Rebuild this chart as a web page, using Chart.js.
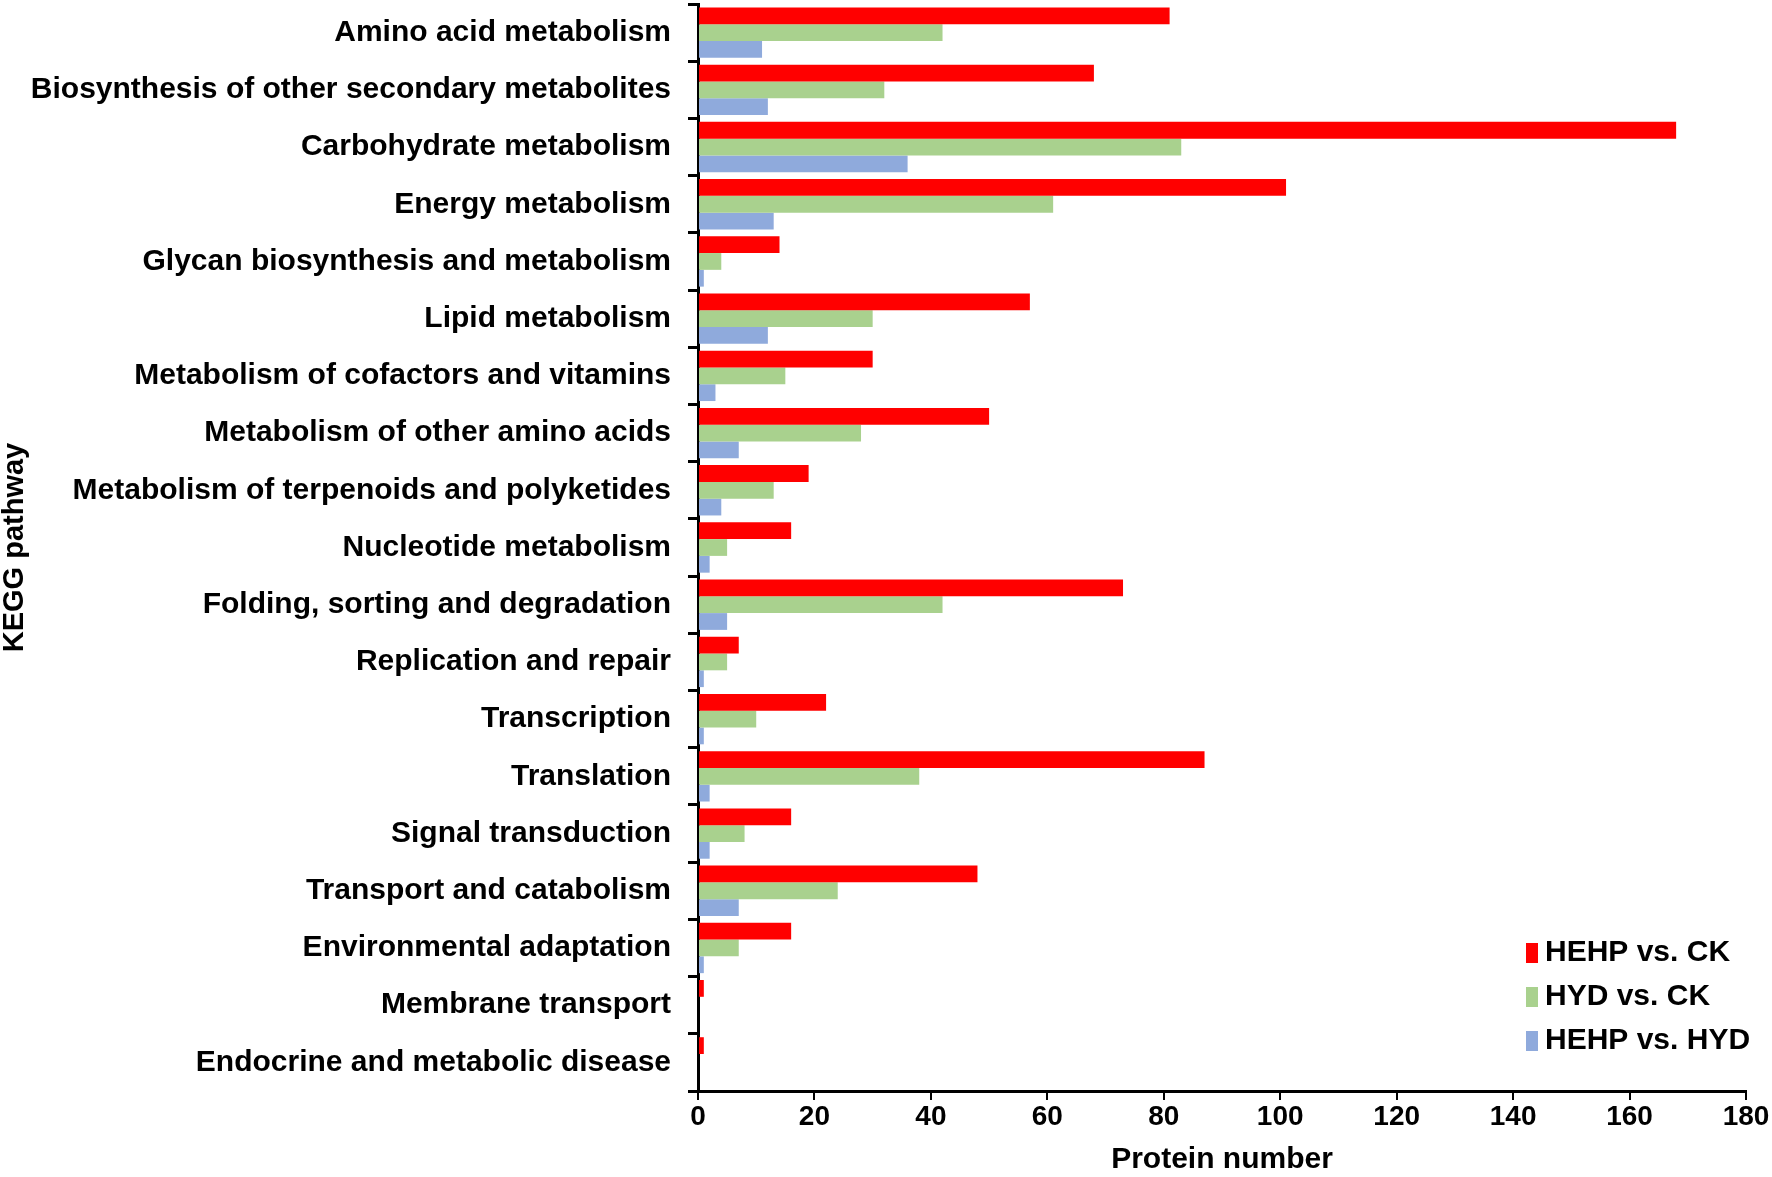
<!DOCTYPE html>
<html>
<head>
<meta charset="utf-8">
<script src="https://cdn.jsdelivr.net/npm/chart.js@4.4.1/dist/chart.umd.min.js"></script>
<style>
  body { margin: 0; background: #fff; }
  #holder { width: 1772px; height: 1177px; }
</style>
</head>
<body>
<div id="holder"><canvas id="chart" width="1772" height="1177"></canvas></div>
<script>
// KEGG pathways, top to bottom
var pathways = [
  "Amino acid metabolism",
  "Biosynthesis of other secondary metabolites",
  "Carbohydrate metabolism",
  "Energy metabolism",
  "Glycan biosynthesis and metabolism",
  "Lipid metabolism",
  "Metabolism of cofactors and vitamins",
  "Metabolism of other amino acids",
  "Metabolism of terpenoids and polyketides",
  "Nucleotide metabolism",
  "Folding, sorting and degradation",
  "Replication and repair",
  "Transcription",
  "Translation",
  "Signal transduction",
  "Transport and catabolism",
  "Environmental adaptation",
  "Membrane transport",
  "Endocrine and metabolic disease"
];

var hehpVsCk = [81, 68, 168, 101, 14, 57, 30, 50, 19, 16, 73, 7, 22, 87, 16, 48, 16, 1, 1];
var hydVsCk  = [42, 32, 83, 61, 4, 30, 15, 28, 13, 5, 42, 5, 10, 38, 8, 24, 7, 0, 0];
var hehpVsHyd = [11, 12, 36, 13, 1, 12, 3, 7, 4, 2, 5, 1, 1, 2, 2, 7, 1, 0, 0];

var seriesNames = ["HEHP vs. CK", "HYD vs. CK", "HEHP vs. HYD"];
var seriesColors = ["#ff0000", "#a9d18e", "#8faadc"];

var xTicks = [0, 20, 40, 60, 80, 100, 120, 140, 160, 180];

Chart.defaults.font.family = "'Liberation Sans', Arial, sans-serif";
Chart.defaults.font.weight = "bold";
Chart.defaults.color = "#000";

// legend in the lower right corner of the plot, drawn by hand
var cornerLegend = {
  id: "cornerLegend",
  afterDraw: function (chart) {
    var ctx = chart.ctx;
    var sets = chart.data.datasets;
    ctx.save();
    ctx.font = "bold 30px 'Liberation Sans', Arial, sans-serif";
    ctx.textBaseline = "middle";
    ctx.textAlign = "left";
    for (var i = 0; i < sets.length; i++) {
      var y = 953 + i * 44;
      ctx.fillStyle = sets[i].backgroundColor;
      ctx.fillRect(1526, y - 10, 12, 20);
      ctx.fillStyle = "#000";
      ctx.fillText(sets[i].label, 1545, y);
    }
    ctx.restore();
  }
};

var chart = new Chart(document.getElementById("chart"), {
  type: "bar",
  data: {
    labels: pathways,
    datasets: [
      { label: seriesNames[0], data: hehpVsCk, backgroundColor: seriesColors[0] },
      { label: seriesNames[1], data: hydVsCk, backgroundColor: seriesColors[1] },
      { label: seriesNames[2], data: hehpVsHyd, backgroundColor: seriesColors[2] }
    ]
  },
  options: {
    indexAxis: "y",
    responsive: false,
    devicePixelRatio: 1,
    animation: false,
    barPercentage: 1,
    categoryPercentage: 0.88,
    layout: { padding: { top: 4, right: 26, left: 0, bottom: 0 } },
    plugins: {
      legend: { display: false },
      tooltip: { enabled: false }
    },
    scales: {
      y: {
        afterFit: function (scale) {
          scale.width = 698;
          // labels sit inside their bands, no need for extra room above/below
          scale.paddingTop = 0;
          scale.paddingBottom = 0;
        },
        border: { color: "#000", width: 3 },
        grid: { offset: true, drawOnChartArea: false, tickLength: 10, color: "#000", lineWidth: 3 },
        ticks: { padding: 17, font: { size: 30, weight: "bold" }, color: "#000" },
        title: { display: true, text: "KEGG pathway", font: { size: 29, weight: "bold", lineHeight: 1 }, padding: 0, color: "#000" }
      },
      x: {
        min: 0,
        max: 180,
        afterFit: function (scale) { scale.height = 86; },
        afterBuildTicks: function (scale) {
          scale.ticks = xTicks.map(function (v) { return { value: v }; });
        },
        border: { color: "#000", width: 3 },
        grid: { drawOnChartArea: false, tickLength: 9, color: "#000", lineWidth: 2 },
        ticks: { padding: 0, font: { size: 28, weight: "bold" }, color: "#000", maxRotation: 0 },
        title: { display: true, text: "Protein number", font: { size: 30, weight: "bold", lineHeight: 1 }, padding: { top: 0, bottom: 2 }, color: "#000" }
      }
    }
  },
  plugins: [cornerLegend]
});
</script>
</body>
</html>
